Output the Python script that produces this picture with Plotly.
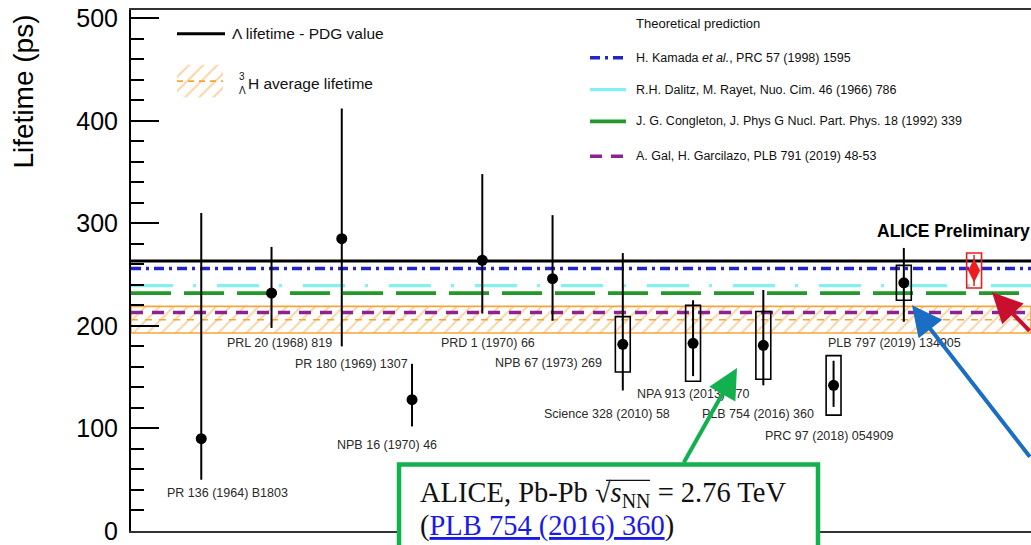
import plotly.graph_objects as go

# ---------------------------------------------------------------- data ----
refs = [
    "PR 136 (1964) B1803", "PRL 20 (1968) 819", "PR 180 (1969) 1307",
    "NPB 16 (1970) 46", "PRD 1 (1970) 66", "NPB 67 (1973) 269",
    "Science 328 (2010) 58", "NPA 913 (2013) 170", "PLB 754 (2016) 360",
    "PRC 97 (2018) 054909", "PLB 797 (2019) 134905",
]
tau = [90, 232, 285, 128, 264, 246, 182, 183, 181, 142, 242]
stat_hi = [220, 45, 127, 35, 84, 62, 89, 42, 54, 24, 34]
stat_lo = [40, 34, 105, 26, 52, 41, 45, 32, 39, 21, 38]
syst = [None, None, None, None, None, None, 27, 37, 33, 29, 17]

prelim_tau = 254
prelim_stat = 15
prelim_syst = 17

pdg_tau = 263.2
avg_tau = 206
avg_err = 13

theory_labels = [
    "H. Kamada <i>et al.</i>, PRC 57 (1998) 1595",
    "R.H. Dalitz, M. Rayet, Nuo. Cim. 46 (1966) 786",
    "J. G. Congleton, J. Phys G Nucl. Part. Phys. 18 (1992) 339",
    "A. Gal, H. Garcilazo, PLB 791 (2019) 48-53",
]
theory_tau = [256, 239.3, 232, 213]

y_ticks = [0, 100, 200, 300, 400, 500]

# ---------------------------------------------------------- geometry ----
W, H = 1031, 545
L, R, T, B = 131, 1031, 10, 534          # plot area in pixels
XMAX = 12.81
YMAX = 508

# label placement: offset from point index, vertical position (ps)
label_dx = [0.38, 0.11, 0.135, -0.357, 0.078, -0.06, -0.23, 0.0, -0.07, -0.06, -0.14]
label_y = [36.8, 183.2, 163.2, 83.7, 183.2, 163.8, 113.7, 133.1, 113.7, 92.8, 183.2]

theory_colors = ["#2424c8", "#85f0f0", "#22992a", "#8e2390"]
theory_dash = ["10px,5px,3px,5px", "42px,20px,3px,21px", "40px,13px", "12px,9px"]
theory_width = [3.5, 3.2, 3.8, 3.5]
orange = "#f5a53a"
hatch = "#f6a849"

SANS = "Liberation Sans, Arial, sans-serif"
SERIF = "Liberation Serif, Times New Roman, serif"


def px_x(px):
    return (px - L) / (R - L) * XMAX


def px_y(py):
    return (B - py) / (B - T) * YMAX


def pap_x(px):
    return (px - L) / (R - L)


def pap_y(py):
    return (B - py) / (B - T)


def note(px, py, text, size, family=SANS, color="#111", xanchor="left", **kw):
    return dict(x=pap_x(px), y=pap_y(py), xref="paper", yref="paper", text=text,
                showarrow=False, xanchor=xanchor, yanchor="middle",
                font=dict(family=family, size=size, color=color), **kw)


fig = go.Figure()

# average hypertriton lifetime band
lo, hi = avg_tau - avg_err, avg_tau + avg_err
fig.add_trace(go.Scatter(
    x=[0, XMAX, XMAX, 0, 0], y=[lo, lo, hi, hi, lo], mode="lines",
    fill="toself", fillcolor="rgba(255,255,255,0)",
    fillpattern=dict(shape="/", fgcolor=hatch, bgcolor="rgba(255,255,255,0)",
                     size=10, solidity=0.2),
    line=dict(color=orange, width=1.6), hoverinfo="skip", showlegend=False))
fig.add_trace(go.Scatter(
    x=[0, XMAX], y=[avg_tau, avg_tau], mode="lines",
    line=dict(color=orange, width=1.6, dash="7px,7px"),
    hoverinfo="skip", showlegend=False))

# theoretical predictions (drawn bottom-up so Kamada ends on top)
for i in reversed(range(len(theory_tau))):
    fig.add_trace(go.Scatter(
        x=[0, XMAX], y=[theory_tau[i]] * 2, mode="lines",
        line=dict(color=theory_colors[i], width=theory_width[i], dash=theory_dash[i]),
        hoverinfo="skip", showlegend=False))

# Lambda lifetime, PDG
fig.add_trace(go.Scatter(
    x=[0, XMAX], y=[pdg_tau, pdg_tau], mode="lines",
    line=dict(color="black", width=3), hoverinfo="skip", showlegend=False))

# measurements
xs = list(range(1, len(tau) + 1))
fig.add_trace(go.Scatter(
    x=xs, y=tau, mode="markers",
    marker=dict(color="black", size=11, symbol="circle"),
    error_y=dict(type="data", symmetric=False, array=stat_hi, arrayminus=stat_lo,
                 color="black", thickness=2, width=0),
    text=refs, hoverinfo="text+y", showlegend=False))

half = 0.106
shapes = []
for x, t, s in zip(xs, tau, syst):
    if s is None:
        continue
    shapes.append(dict(type="rect", xref="x", yref="y", x0=x - half, x1=x + half,
                       y0=t - s, y1=t + s, line=dict(color="black", width=1.6)))

# ALICE preliminary
x_pre = len(tau) + 1
fig.add_trace(go.Scatter(
    x=[x_pre], y=[prelim_tau], mode="markers",
    marker=dict(color="#ee1c1c", size=17, symbol="diamond-tall"),
    error_y=dict(type="data", array=[prelim_stat], color="#ee1c1c", thickness=1.5, width=0),
    hoverinfo="y", showlegend=False))
shapes.append(dict(type="rect", xref="x", yref="y", x0=x_pre - half, x1=x_pre + half,
                   y0=prelim_tau - prelim_syst, y1=prelim_tau + prelim_syst,
                   line=dict(color="#ee1c1c", width=1.6)))

# hatched legend swatch
sx0, sx1, sy0, sy1 = px_x(177), px_x(223), px_y(98), px_y(65)
fig.add_trace(go.Scatter(
    x=[sx0, sx1, sx1, sx0, sx0], y=[sy0, sy0, sy1, sy1, sy0], mode="lines",
    fill="toself", fillcolor="rgba(255,255,255,0)",
    fillpattern=dict(shape="/", fgcolor=hatch, bgcolor="rgba(255,255,255,0)",
                     size=10, solidity=0.2),
    line=dict(width=0, color="rgba(0,0,0,0)"), hoverinfo="skip", showlegend=False))
fig.add_trace(go.Scatter(
    x=[sx0, sx1], y=[px_y(81.5)] * 2, mode="lines",
    line=dict(color=orange, width=1.6, dash="6px,5px"),
    hoverinfo="skip", showlegend=False))

annotations = []

# reference labels
for i, r in enumerate(refs):
    annotations.append(dict(x=xs[i] + label_dx[i], y=label_y[i], xref="x", yref="y",
                            text=r, showarrow=False, xanchor="center", yanchor="middle",
                            font=dict(family=SANS, size=12.5, color="#2a2a2a")))
annotations.append(dict(x=px_x(875), y=px_y(232), xref="x", yref="y",
                        text="<b>ALICE Preliminary</b>", showarrow=False,
                        xanchor="left", yanchor="middle",
                        font=dict(family=SANS, size=17.5, color="black")))

# PDG / average legend
shapes.append(dict(type="line", xref="paper", yref="paper",
                   x0=pap_x(177), x1=pap_x(225), y0=pap_y(34), y1=pap_y(34),
                   line=dict(color="black", width=3)))
annotations.append(note(230, 34, "\u039b lifetime - PDG value", 15.5))
annotations.append(note(242, 77, "3", 10, xanchor="center"))
annotations.append(note(242, 91, "\u039b", 10, xanchor="center"))
annotations.append(note(246, 84, "H average lifetime", 15.5))

# theoretical prediction legend
annotations.append(note(634, 24, "Theoretical prediction", 13))
legend_rows = [58, 90, 122, 157]
for i, lab in enumerate(theory_labels):
    shapes.append(dict(type="line", xref="paper", yref="paper",
                       x0=pap_x(590), x1=pap_x(626),
                       y0=pap_y(legend_rows[i]), y1=pap_y(legend_rows[i]),
                       line=dict(color=theory_colors[i], width=theory_width[i],
                                 dash=theory_dash[i])))
    annotations.append(note(634, legend_rows[i], lab, 12.5))

# y axis title
annotations.append(note(24, 92, "Lifetime (ps)", 28, color="black",
                        xanchor="center", textangle=-90))

# call-out box
green = "#12b04e"
shapes.append(dict(type="rect", xref="paper", yref="paper",
                   x0=pap_x(399), x1=pap_x(818), y0=pap_y(600), y1=pap_y(467),
                   line=dict(color=green, width=4.5), fillcolor="white", layer="above"))
annotations.append(note(418, 497,
                        "ALICE, Pb-Pb \u221a<i>s</i><sub>NN</sub> = 2.76 TeV",
                        28.5, family=SERIF))
annotations.append(note(418, 529,
                        "(<span style='color:#1a1ae8'><u>PLB 754 (2016) 360</u></span>)",
                        28.5, family=SERIF))
# bar of the square root over s_NN
shapes.append(dict(type="line", xref="paper", yref="paper",
                   x0=pap_x(606), x1=pap_x(650), y0=pap_y(483), y1=pap_y(483),
                   line=dict(color="#111", width=1.3), layer="above"))

# arrows
arrows = [
    (737, 370, 683, 466, green),
    (912, 307, 1090, 460, "#1a6fc4"),
    (992, 294, 1090, 334, "#c8102e"),
]
for tx, ty, ex, ey, col in arrows:
    annotations.append(dict(x=pap_x(tx), y=pap_y(ty), xref="paper", yref="paper",
                            ax=ex - tx, ay=ey - ty, text="", showarrow=True,
                            arrowhead=2, arrowsize=1.5, arrowwidth=4, arrowcolor=col,
                            standoff=0))

fig.update_layout(
    width=W, height=H,
    margin=dict(l=L, r=W - R, t=T, b=H - B, pad=0),
    paper_bgcolor="white", plot_bgcolor="white",
    xaxis=dict(range=[0, XMAX], showgrid=False, zeroline=False, showticklabels=False,
               ticks="", showline=True, linecolor="#333", linewidth=2, mirror=True),
    yaxis=dict(range=[0, YMAX], tickvals=y_ticks, ticks="inside", ticklen=28,
               tickwidth=2, tickcolor="black", showline=True, linecolor="black",
               linewidth=2, mirror=False, showgrid=False, zeroline=False,
               ticklabelstandoff=6, ticklabeloverflow="allow",
               tickfont=dict(family=SANS, size=25, color="black"),
               minor=dict(dtick=20, ticks="inside", ticklen=13, tickwidth=2,
                          tickcolor="black", showgrid=False)),
    shapes=shapes, annotations=annotations,
)

fig.write_html("out.html")
